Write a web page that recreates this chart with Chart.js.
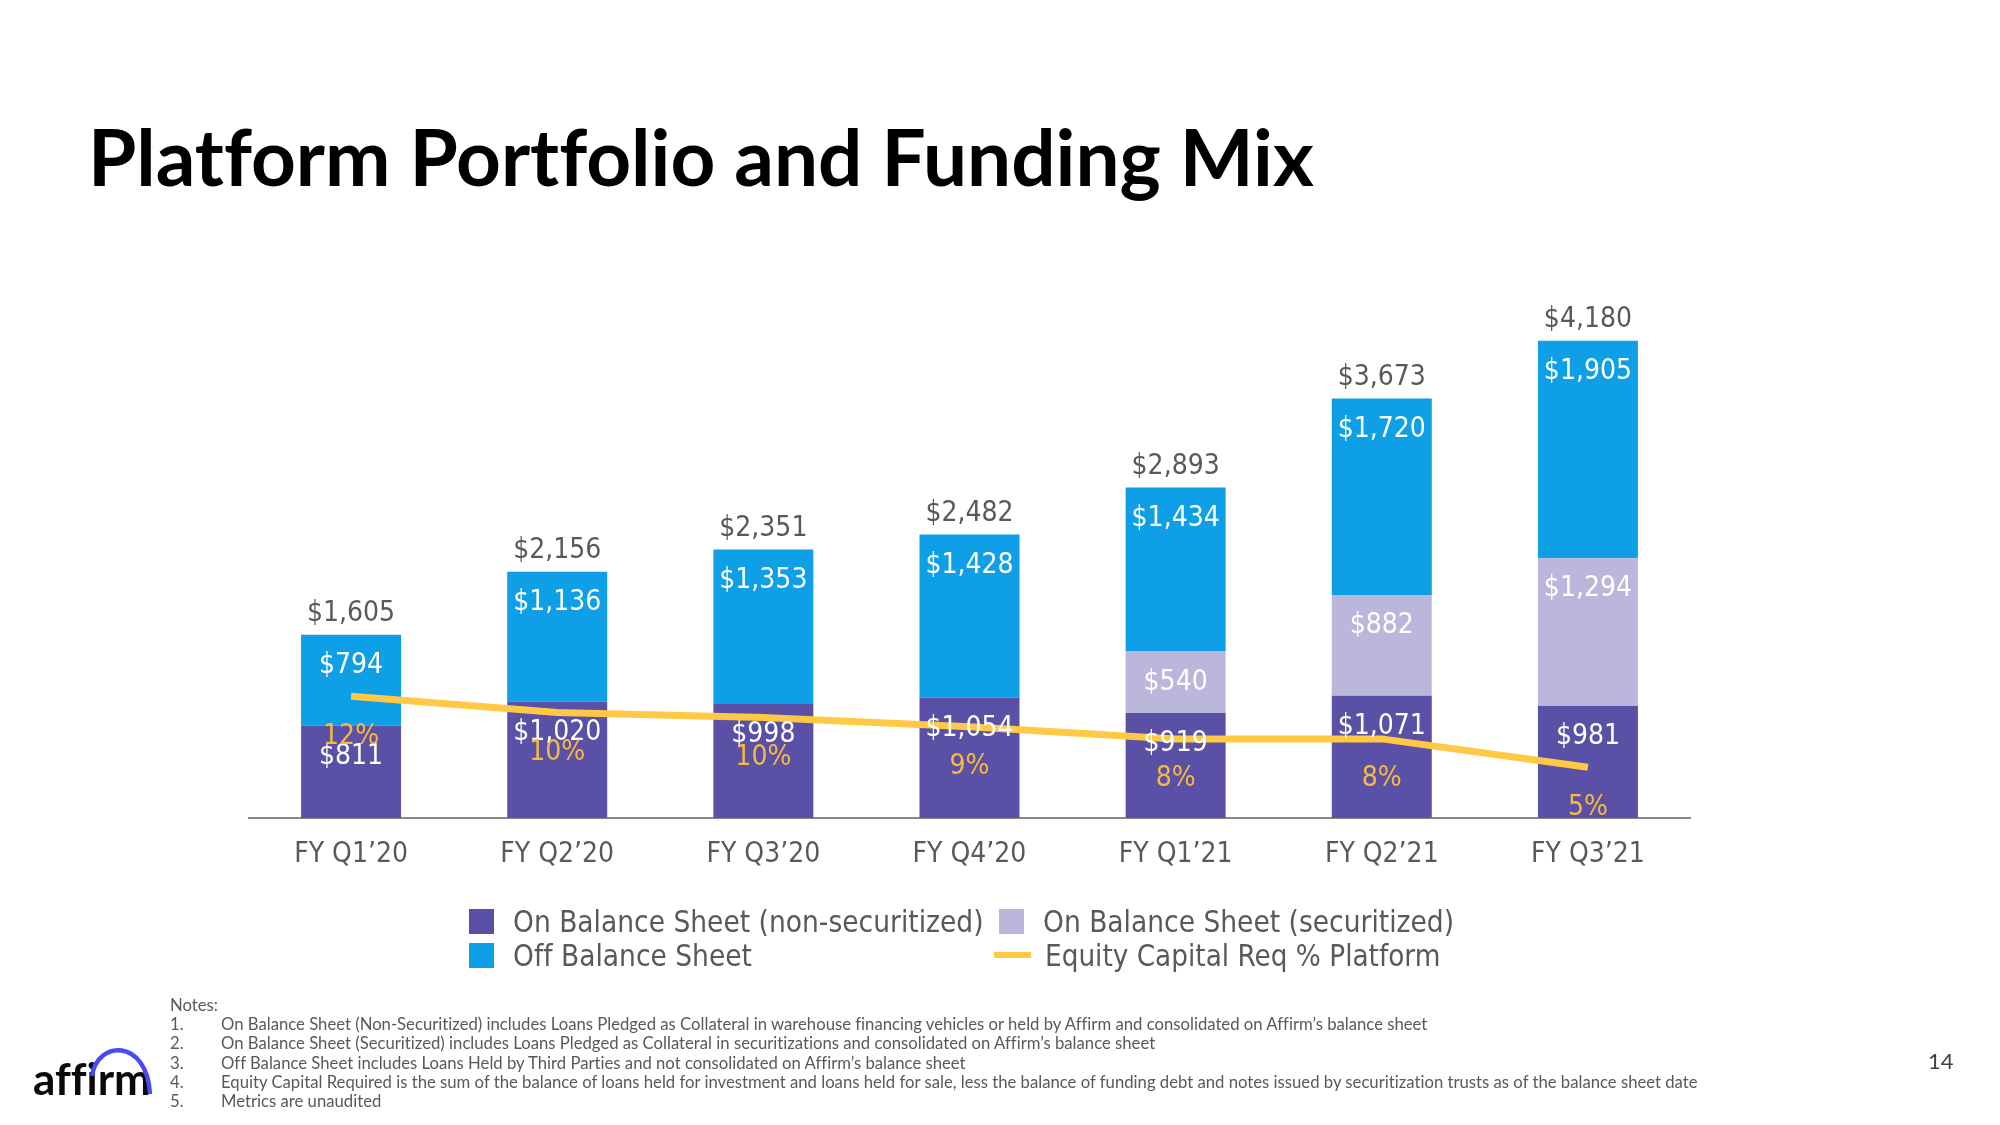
<!DOCTYPE html>
<html>
<head>
<meta charset="utf-8">
<script src="https://cdn.jsdelivr.net/npm/chart.js@4.4.1/dist/chart.umd.min.js"></script>
<style>
  html, body { margin: 0; padding: 0; background: #ffffff; }
  body { width: 2000px; height: 1125px; position: relative; overflow: hidden; }
  #chartBox { position: absolute; left: 248px; top: 247px; width: 1443px; height: 655px; }
  #overlay { position: absolute; left: 0; top: 0; width: 2000px; height: 1125px; pointer-events: none; }
  #overlay text { font-variant-ligatures: none; }
</style>
</head>
<body>
<div id="chartBox"><canvas id="c"></canvas></div>
<svg id="overlay" width="2000" height="1125" xmlns="http://www.w3.org/2000/svg"></svg>
<script>
// ---------------- DATA ----------------
const categories = ["FY Q1\u201920", "FY Q2\u201920", "FY Q3\u201920", "FY Q4\u201920", "FY Q1\u201921", "FY Q2\u201921", "FY Q3\u201921"];
const onBalanceNonSecuritized = [811, 1020, 998, 1054, 919, 1071, 981];
const onBalanceSecuritized = [null, null, null, null, 540, 882, 1294];
const offBalanceSheet = [794, 1136, 1353, 1428, 1434, 1720, 1905];
const platformTotals = [1605, 2156, 2351, 2482, 2893, 3673, 4180];
const equityCapitalPct = [12.0, 10.4, 9.9, 9.0, 7.8, 7.8, 5.0];
const equityCapitalPctLabels = ["12%", "10%", "10%", "9%", "8%", "8%", "5%"];

const seriesNames = ["On Balance Sheet (non-securitized)", "On Balance Sheet (securitized)", "Off Balance Sheet", "Equity Capital Req % Platform"];
const seriesColors = ["#5A50A6", "#BBB6DB", "#0E9FE6", "#FFC845"];

const titleText = "Platform Portfolio and Funding Mix";
const notesLines = [
  "On Balance Sheet (Non-Securitized) includes Loans Pledged as Collateral in warehouse financing vehicles or held by Affirm and consolidated on Affirm\u2019s balance sheet",
  "On Balance Sheet (Securitized) includes Loans Pledged as Collateral in securitizations and consolidated on Affirm\u2019s balance sheet",
  "Off Balance Sheet includes Loans Held by Third Parties and not consolidated on Affirm\u2019s balance sheet",
  "Equity Capital Required is the sum of the balance of loans held for investment and loans held for sale, less the balance of funding debt and notes issued by securitization trusts as of the balance sheet date",
  "Metrics are unaudited"
];
const pageNumber = "14";

// ---------------- CHART ----------------
const LABEL_FONT = "28px 'DejaVu Sans Condensed', 'DejaVu Sans', sans-serif";
const fmt = v => "$" + v.toLocaleString("en-US");

const labelPlugin = {
  id: "valueLabels",
  afterDatasetsDraw(chart) {
    const ctx = chart.ctx;
    ctx.save();
    ctx.font = LABEL_FONT;
    ctx.textAlign = "center";
    ctx.textBaseline = "middle";
    [1, 2, 3].forEach(di => {
      const meta = chart.getDatasetMeta(di);
      const data = chart.data.datasets[di].data;
      meta.data.forEach((bar, i) => {
        const v = data[i];
        if (v == null) return;
        ctx.fillStyle = "#FFFFFF";
        ctx.fillText(fmt(v), bar.x, bar.y + 31);
      });
    });
    const topMeta = chart.getDatasetMeta(3);
    topMeta.data.forEach((bar, i) => {
      ctx.fillStyle = "#595959";
      ctx.fillText(fmt(platformTotals[i]), bar.x, bar.y - 21);
    });
    const lineMeta = chart.getDatasetMeta(0);
    lineMeta.data.forEach((pt, i) => {
      ctx.fillStyle = "#F8BA3E";
      ctx.fillText(equityCapitalPctLabels[i], pt.x, pt.y + 40);
    });
    ctx.restore();
  }
};

const chart = new Chart(document.getElementById("c"), {
  type: "bar",
  data: {
    labels: categories,
    datasets: [
      { type: "line", label: seriesNames[3], data: equityCapitalPct, yAxisID: "y1",
        borderColor: seriesColors[3], borderWidth: 7, pointRadius: 0, tension: 0, fill: false, order: -1 },
      { label: seriesNames[0], data: onBalanceNonSecuritized, backgroundColor: seriesColors[0], yAxisID: "y" },
      { label: seriesNames[1], data: onBalanceSecuritized, backgroundColor: seriesColors[1], yAxisID: "y" },
      { label: seriesNames[2], data: offBalanceSheet, backgroundColor: seriesColors[2], yAxisID: "y" }
    ]
  },
  options: {
    responsive: true,
    maintainAspectRatio: false,
    animation: false,
    devicePixelRatio: 1,
    layout: { padding: 0 },
    datasets: { bar: { categoryPercentage: 1.0, barPercentage: 0.485, borderWidth: 0 } },
    plugins: { legend: { display: false }, tooltip: { enabled: false }, title: { display: false } },
    scales: {
      x: {
        stacked: true,
        offset: true,
        grid: { display: false, drawTicks: false },
        border: { display: true, color: "#898989", width: 2 },
        ticks: { color: "#595959", font: { family: "'DejaVu Sans Condensed', 'DejaVu Sans', sans-serif", size: 28 }, padding: 20, maxRotation: 0, autoSkip: false },
        afterFit: s => { s.height = 84; }
      },
      y: { stacked: true, display: false, min: 0, max: 5000 },
      y1: { stacked: false, display: false, min: 0, max: 56.3, position: "right" }
    }
  },
  plugins: [labelPlugin]
});

// ---------------- OVERLAY (title, legend, notes, logo) ----------------
const NS = "http://www.w3.org/2000/svg";
const svg = document.getElementById("overlay");
function el(name, attrs, text) {
  const e = document.createElementNS(NS, name);
  for (const k in attrs) e.setAttribute(k, attrs[k]);
  if (text != null) e.textContent = text;
  svg.appendChild(e);
  return e;
}

// title
const titleFamily = "Lato, 'Open Sans', sans-serif";
const titleEl = el("text", { x: 88, y: 186, "font-family": titleFamily, "font-weight": "bold", "font-size": 80, fill: "#000000" }, titleText);
const tw = titleEl.getComputedTextLength();
if (tw > 0) titleEl.setAttribute("font-size", (80 * 1226 / tw).toFixed(2));

// legend
const legFont = "'DejaVu Sans Condensed', 'DejaVu Sans', sans-serif";
const legItems = [
  { name: seriesNames[0], color: seriesColors[0], kind: "box", x: 469, row: 0 },
  { name: seriesNames[1], color: seriesColors[1], kind: "box", x: 999, row: 0 },
  { name: seriesNames[2], color: seriesColors[2], kind: "box", x: 469, row: 1 },
  { name: seriesNames[3], color: seriesColors[3], kind: "line", x: 994, row: 1 }
];
legItems.forEach(it => {
  const cy = 921 + it.row * 34;
  if (it.kind === "box") {
    el("rect", { x: it.x, y: cy - 12, width: 25, height: 25, fill: it.color });
    el("text", { x: it.x + 44, y: cy + 11, "font-family": legFont, "font-size": 29.5, fill: "#595959" }, it.name);
  } else {
    el("line", { x1: it.x, y1: cy, x2: it.x + 37, y2: cy, stroke: it.color, "stroke-width": 6 });
    el("text", { x: it.x + 51, y: cy + 11, "font-family": legFont, "font-size": 29.3, fill: "#595959" }, it.name);
  }
});

// notes
const noteFamily = "Lato, 'Open Sans', sans-serif";
const noteSize = 16.7;
el("text", { x: 170, y: 1011, "font-family": noteFamily, "font-size": noteSize, fill: "#595959" }, "Notes:");
notesLines.forEach((t, i) => {
  const y = 1030.2 + i * 19.15;
  el("text", { x: 170, y: y, "font-family": noteFamily, "font-size": noteSize, fill: "#595959" }, (i + 1) + ".");
  el("text", { x: 221, y: y, "font-family": noteFamily, "font-size": noteSize, fill: "#595959" }, t);
});

// page number
el("text", { x: 1928, y: 1069, "font-family": noteFamily, "font-size": 22, fill: "#404040" }, pageNumber);

// logo
el("text", { x: 33, y: 1095, "font-family": "Lato, sans-serif", "font-weight": "bold", "font-size": 44, fill: "#0A0A0A" }, "affirm");
el("path", { d: "M 92 1076 C 97 1040, 147 1038, 150 1094", fill: "none", stroke: "#4A4AF4", "stroke-width": 4.5 });
</script>
</body>
</html>
